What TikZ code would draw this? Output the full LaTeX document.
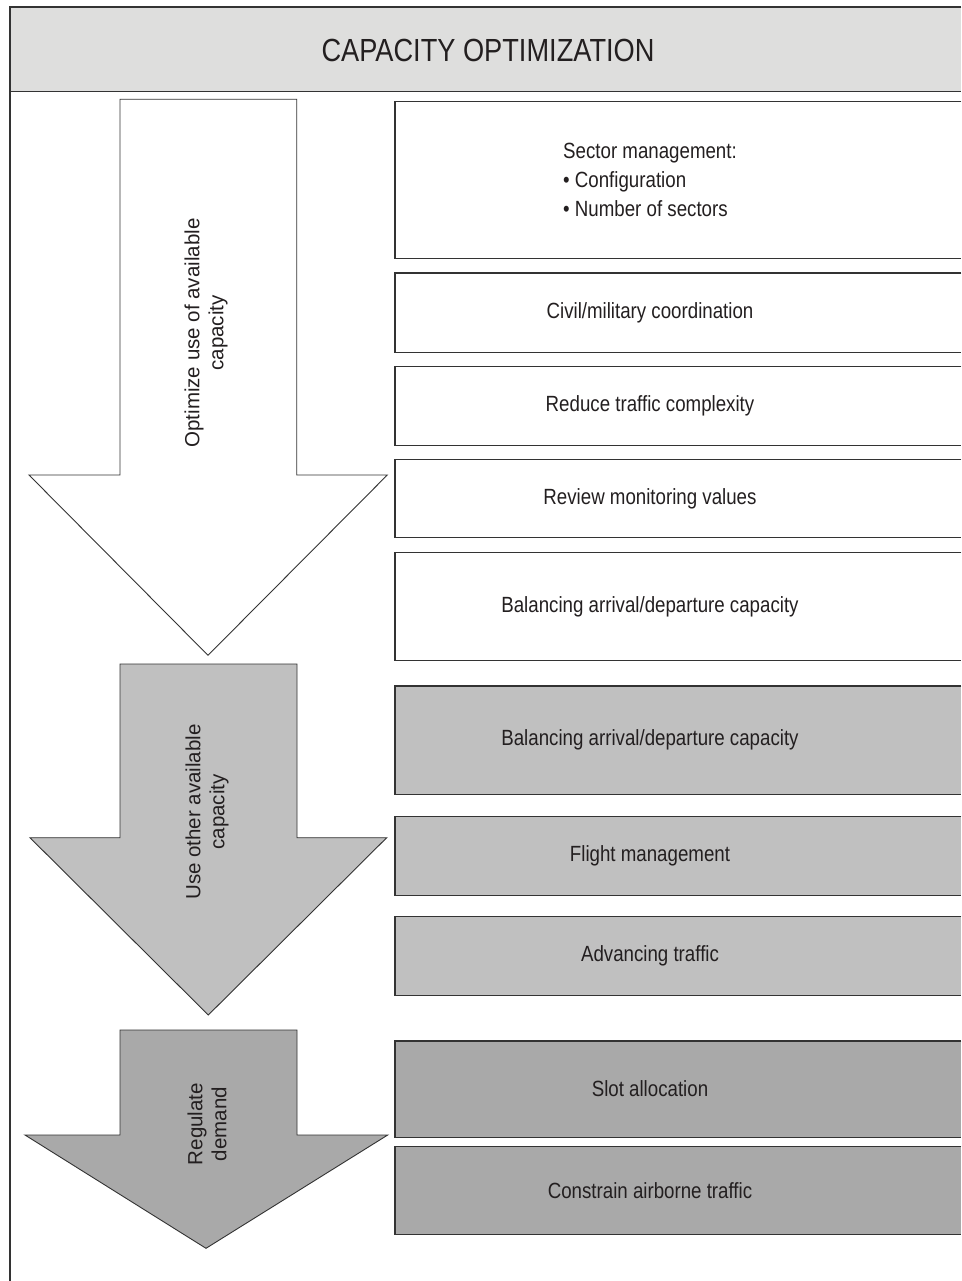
\documentclass[tikz,border=0pt]{standalone}
\usepackage{fontspec}
\setmainfont{Liberation Sans}
\newfontfamily\narrowfont{Liberation Sans}[FakeStretch=0.85]
\definecolor{headgrey}{HTML}{DEDEDD}
\definecolor{midgrey}{HTML}{C0C0C0}
\definecolor{darkgrey}{HTML}{A9A9A9}
\definecolor{inkline}{HTML}{333333}
\definecolor{inktext}{HTML}{231F20}
\tikzset{
  frameline/.style={draw=inkline, line width=1.3pt},
  box/.style={rectangle, anchor=north west, minimum width=566pt, inner sep=0pt},
  boxedge/.style={draw=inkline, line width=1.2pt},
  boxtext/.style={text=inktext, font=\narrowfont\fontsize{22}{29}\selectfont, inner sep=0pt},
  arrowshape/.style={draw=inkline, line width=0.9pt, line join=miter},
  arrowtext/.style={text=inktext, font=\fontsize{20.5}{24}\selectfont, align=center,
    rotate=90, inner sep=0pt},
}
\begin{document}
\begin{tikzpicture}[x=1pt, y=-1pt]
\useasboundingbox[fill=white] (0,0) rectangle (961,1281);

% title band and the open outer frame
\node[fill=headgrey, rectangle, anchor=north west, minimum width=951pt,
  minimum height=84pt, inner sep=0pt] (head) at (10,7) {};
\draw[frameline] (head.north east) -- (head.north west) -- (10,1281);
\draw[frameline] (head.south west) -- (head.south east);
\node[text=inktext, font=\narrowfont\fontsize{32}{36}\selectfont, inner sep=0pt]
  (title) at (488,50) {CAPACITY OPTIMIZATION};

% stage arrows
\draw[arrowshape, fill=white] (120,99.3) -- (296.7,99.3) -- (296.7,475) -- (387.3,475)
  -- (208,655.3) -- (29,475) -- (120,475) -- cycle;
\draw[arrowshape, fill=midgrey] (120,664) -- (297,664) -- (297,837.7) -- (386.7,837.7)
  -- (208.3,1015) -- (30,837.7) -- (120,837.7) -- cycle;
\draw[arrowshape, fill=darkgrey] (120,1030) -- (297,1030) -- (297,1135) -- (387.7,1135)
  -- (206,1248.3) -- (25,1135) -- (120,1135) -- cycle;

\node[arrowtext] (a1) at (206,333) {Optimize use of available\\capacity};
\node[arrowtext] (a2) at (207,812) {Use other available\\capacity};
\node[arrowtext] (a3) at (207,1124) {Regulate\\demand};

% measure boxes, running on past the right edge
\node[box, fill=white,    minimum height=156pt] (b1)  at (395,101.7) {};
\node[box, fill=white,    minimum height=78.7pt] (b2)  at (395,273) {};
\node[box, fill=white,    minimum height=78pt]  (b3)  at (395,366.7) {};
\node[box, fill=white,    minimum height=78pt]  (b4)  at (395,459.3) {};
\node[box, fill=white,    minimum height=107.3pt] (b5) at (395,552.7) {};
\node[box, fill=midgrey,  minimum height=108pt] (b6)  at (395,686) {};
\node[box, fill=midgrey,  minimum height=78pt]  (b7)  at (395,816.7) {};
\node[box, fill=midgrey,  minimum height=78.3pt] (b8) at (395,916.7) {};
\node[box, fill=darkgrey, minimum height=95.7pt] (b9) at (395,1041) {};
\node[box, fill=darkgrey, minimum height=87.3pt] (b10) at (395,1146.7) {};
\foreach \b in {b1,b2,b3,b4,b5,b6,b7,b8,b9,b10}
  \draw[boxedge] (\b.north east) -- (\b.north west) -- (\b.south west) -- (\b.south east);

\coordinate (tx) at (650,0);
\node[boxtext, align=left] (t1) at (tx |- b1) {Sector management:\\• Configuration\\• Number of sectors};
\node[boxtext] (t2)  at (tx |- b2)  {Civil/military coordination};
\node[boxtext] (t3)  at (tx |- b3)  {Reduce traffic complexity};
\node[boxtext] (t4)  at (tx |- b4)  {Review monitoring values};
\node[boxtext] (t5)  at (tx |- b5)  {Balancing arrival/departure capacity};
\node[boxtext] (t6)  at (tx |- b6)  {Balancing arrival/departure capacity};
\node[boxtext] (t7)  at (tx |- b7)  {Flight management};
\node[boxtext] (t8)  at (tx |- b8)  {Advancing traffic};
\node[boxtext] (t9)  at (tx |- b9)  {Slot allocation};
\node[boxtext] (t10) at (tx |- b10) {Constrain airborne traffic};
\end{tikzpicture}
\end{document}
